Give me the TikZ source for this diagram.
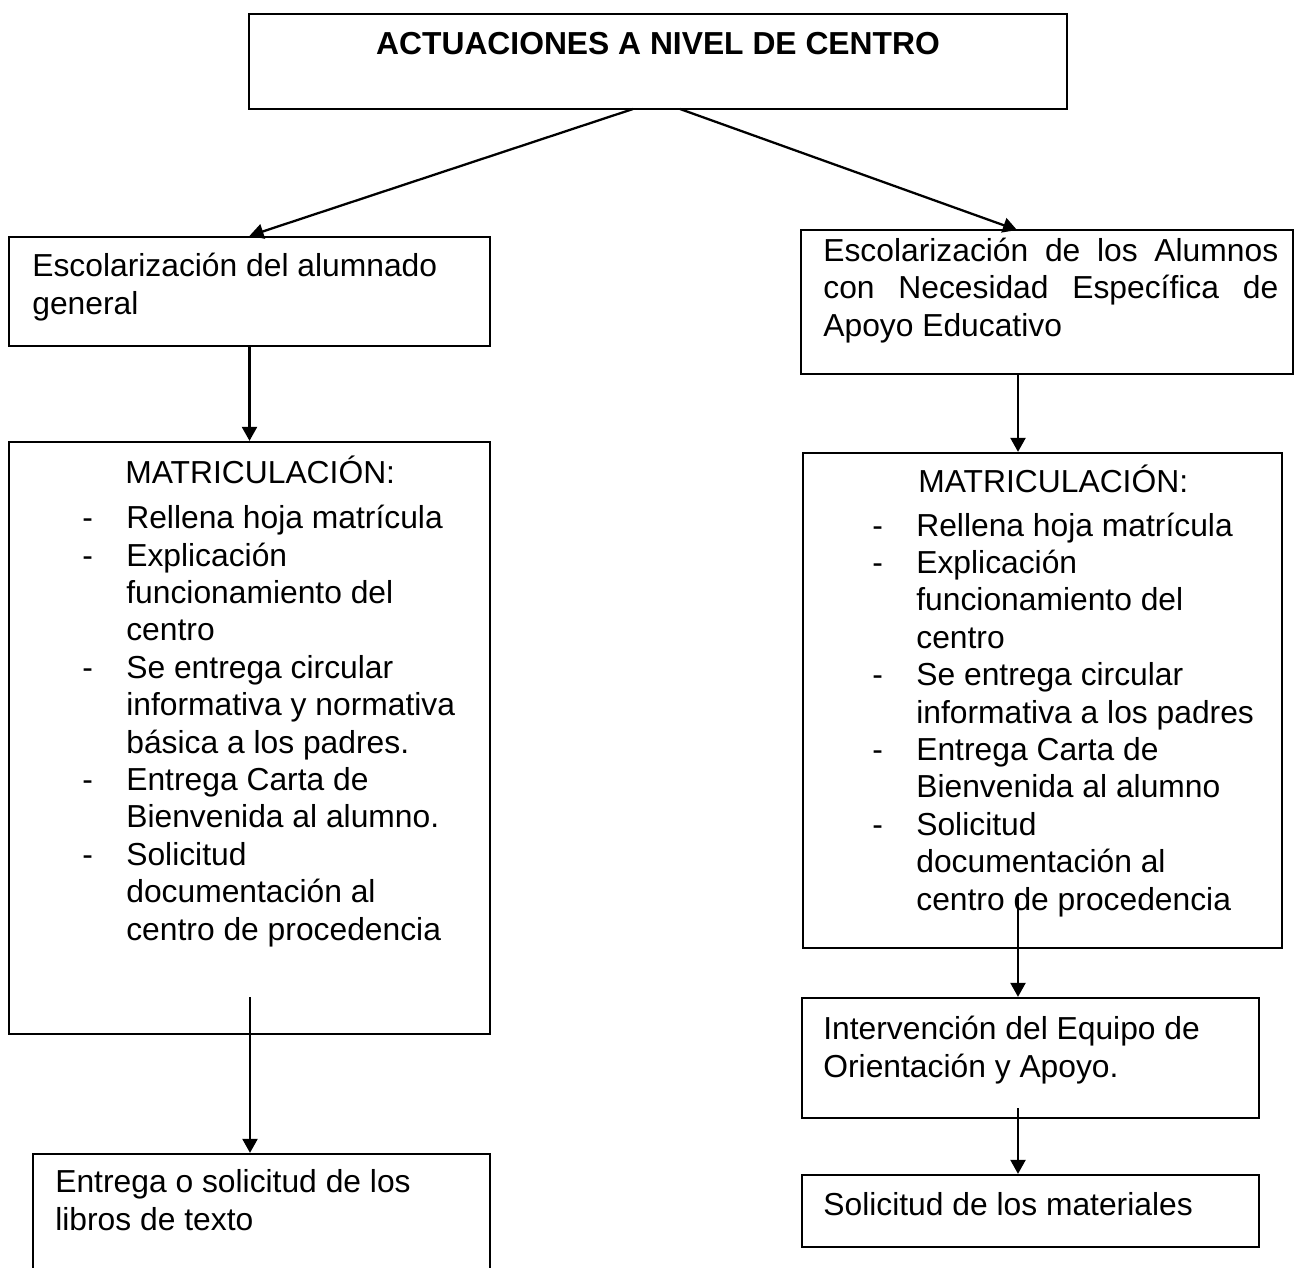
\documentclass[tikz,border=0pt]{standalone}
\usepackage{fontspec}
\setmainfont{Liberation Sans}
\usetikzlibrary{arrows.meta,fit}

\tikzset{
  caja/.style={draw, line width=1.3pt, inner sep=0pt},
  texto/.style={anchor=base west, inner sep=0pt, align=left,
    font=\fontsize{18.1}{21.28}\selectfont},
  titulo/.style={texto, anchor=base,
    font=\bfseries\fontsize{18.1}{21.28}\selectfont},
  flecha/.style={line width=1.3pt, -{Triangle[length=0.28cm,width=0.3cm]}}
}
\newcommand{\guion}[1]{\makebox[0.88cm][l]{-}#1}
\newcommand{\sangria}[1]{\hspace*{0.88cm}#1}

\begin{document}
\begin{tikzpicture}[x=0.02cm,y=-0.02cm]
  \useasboundingbox (0,0) rectangle (1294,1267);
  \clip (0,0) rectangle (1294,1267);

  % Cajas
  \node[caja, fit={(249,14) (1067,109)}] (centro) {};
  \node[caja, fit={(9,237) (490,346)}] (general) {};
  \node[caja, fit={(801,230) (1293,374)}] (nee) {};
  \node[caja, fit={(9,442) (490,1034)}] (mat1) {};
  \node[caja, fit={(803,453) (1282,948)}] (mat2) {};
  \node[caja, fit={(802,998) (1259,1118)}] (interv) {};
  \node[caja, fit={(802,1175) (1259,1247)}] (solic) {};
  \node[caja, fit={(33,1154) (490,1300)}] (libros) {};

  % Textos (base = linea de base de la ultima linea)
  \node[titulo] (t-centro) at (658,55) {ACTUACIONES A NIVEL DE CENTRO};
  \node[texto] (t-general) at (32,314) {Escolarización del alumnado\\general};
  \node[texto] (t-nee) at (823,336)
    {\makebox[9.1cm][s]{Escolarización de los Alumnos}\\
     \makebox[9.1cm][s]{con Necesidad Específica de}\\
     Apoyo Educativo};

  \node[texto] (t-mat1) at (125,483) {MATRICULACIÓN:};
  \node[texto] (l-mat1) at (82,940)
    {\guion{Rellena hoja matrícula}\\
     \guion{Explicación}\\
     \sangria{funcionamiento del}\\
     \sangria{centro}\\
     \guion{Se entrega circular}\\
     \sangria{informativa y normativa}\\
     \sangria{básica a los padres.}\\
     \guion{Entrega Carta de}\\
     \sangria{Bienvenida al alumno.}\\
     \guion{Solicitud}\\
     \sangria{documentación al}\\
     \sangria{centro de procedencia}};

  \node[texto] (t-mat2) at (918,492) {MATRICULACIÓN:};
  \node[texto] (l-mat2) at (872,910)
    {\guion{Rellena hoja matrícula}\\
     \guion{Explicación}\\
     \sangria{funcionamiento del}\\
     \sangria{centro}\\
     \guion{Se entrega circular}\\
     \sangria{informativa a los padres}\\
     \guion{Entrega Carta de}\\
     \sangria{Bienvenida al alumno}\\
     \guion{Solicitud}\\
     \sangria{documentación al}\\
     \sangria{centro de procedencia}};

  \node[texto] (t-interv) at (823,1077) {Intervención del Equipo de\\Orientación y Apoyo.};
  \node[texto] (t-solic) at (823,1215) {Solicitud de los materiales};
  \node[texto] (t-libros) at (55,1230) {Entrega o solicitud de los\\libros de texto};

  % Flechas
  \coordinate (s1) at (633,109);
  \coordinate (s2) at (680,109);
  \coordinate (e2) at (1017,230);
  \coordinate (eje) at (1018,0);
  \coordinate (c1) at (250,997);
  \coordinate (c3) at (1018,897);
  \coordinate (c4) at (1018,1108);

  \draw[flecha] (s1) -- (general.north);
  \draw[flecha] (s2) -- (e2);
  \draw[flecha] (general.south) -- (mat1.north);
  \draw[flecha] (c1) -- (c1 |- libros.north);
  \draw[flecha] (eje |- nee.south) -- (eje |- mat2.north);
  \draw[flecha] (c3) -- (c3 |- interv.north);
  \draw[flecha] (c4) -- (c4 |- solic.north);
\end{tikzpicture}
\end{document}
